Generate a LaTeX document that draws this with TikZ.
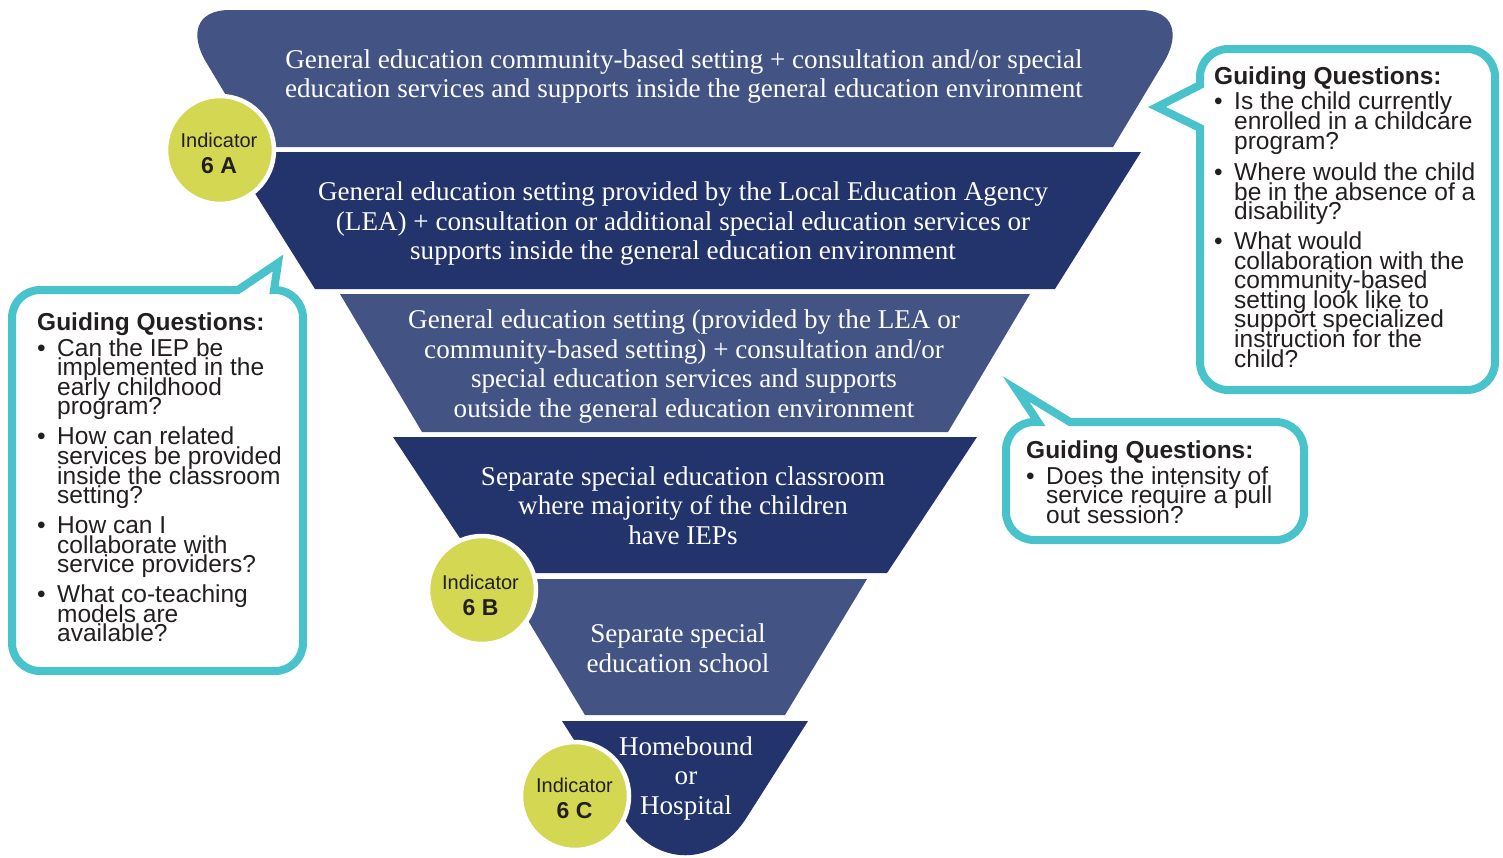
\documentclass[tikz,border=0pt]{standalone}
\usepackage{fontspec}
\setmainfont{Liberation Serif}
\newfontfamily\qfont{Liberation Sans}
\definecolor{bandlight}{RGB}{67,83,131}
\definecolor{banddark}{RGB}{35,51,107}
\definecolor{calloutteal}{RGB}{72,195,204}
\definecolor{indyellow}{RGB}{212,215,82}
\definecolor{qtextcol}{RGB}{35,31,32}
\newcommand\qsetup{\qfont\fontsize{24.5}{19.6}\selectfont\lineskiplimit=-100pt\relax\hsize=300pt\parindent=0pt\parskip=0pt}
\newcommand\qtitle[1]{\noindent{\bfseries #1}\par}
\newcommand\qitem[1]{\par\vspace{#1}\hangindent=20pt\hangafter=1\noindent\hbox to 20pt{\textbullet\hfil}}
\begin{document}
\begin{tikzpicture}[x=1pt,y=-1pt,
  bandtext/.style={text=white, align=center, inner sep=0pt, font=\fontsize{27.1}{29.5}\selectfont},
  callout/.style={draw=calloutteal, line width=8pt, fill=white, line join=miter},
  qnode/.style={inner sep=0pt, text=qtextcol},
  indcircle/.style={circle, fill=indyellow, draw=white, line width=4.5pt, minimum size=108pt, inner sep=0pt},
  indtext/.style={align=center, inner sep=0pt, text=qtextcol, font=\qfont\fontsize{20}{26}\selectfont}]
\useasboundingbox (0,0) rectangle (1503,857);

% funnel bands
\fill[bandlight] (257,147) -- (206,62) .. controls (190,35) and (195,10) .. (230,10) -- (1140,10) .. controls (1175,10) and (1180,35) .. (1164,62) -- (1113,147) -- cycle;
\fill[banddark] (229,152) -- (1141,152) -- (1055,289) -- (315,289) -- cycle;
\fill[bandlight] (340,294) -- (1030,294) -- (948,432) -- (422,432) -- cycle;
\fill[banddark] (393,437) -- (977,437) -- (887,573) -- (483,573) -- cycle;
\fill[bandlight] (503,579) -- (867,579) -- (785,715) -- (585,715) -- cycle;
\fill[banddark] (562,721) -- (808,721) -- (747,817) .. controls (715,868) and (656,868) .. (623,817) -- cycle;

\node[bandtext] (b1) at (684,76.3) {General education community-based setting + consultation and/or special\\education services and supports inside the general education environment};
\node[bandtext] (b2) at (683,223.8) {General education setting provided by the Local Education Agency\\(LEA) + consultation or additional special education services or\\supports inside the general education environment};
\node[bandtext] (b3) at (684,366.5) {General education setting (provided by the LEA or\\community-based setting) + consultation and/or\\special education services and supports\\outside the general education environment};
\node[bandtext] (b4) at (683,505.3) {Separate special education classroom\\where majority of the children\\have IEPs};
\node[bandtext] (b5) at (678,648.3) {Separate special\\education school};
\node[bandtext] (b6) at (686,778) {Homebound\\or\\Hospital};

% indicator circles
\node[indcircle] (c6a) at (220,150) {};
\node[indcircle] (c6b) at (482,590) {};
\node[indcircle] (c6c) at (575,796) {};
\node[indtext] (t6a) at (219,153) {Indicator\\\textbf{\fontsize{23}{26}\selectfont 6 A}};
\node[indtext] (t6b) at (480.5,595) {Indicator\\\textbf{\fontsize{23}{26}\selectfont 6 B}};
\node[indtext] (t6c) at (574.5,798.5) {Indicator\\\textbf{\fontsize{23}{26}\selectfont 6 C}};

% callouts
\draw[callout] (1347,49) [rounded corners=28pt] -- (1200,49) [sharp corners] -- (1200,85) -- (1157,107) -- (1200,128) [rounded corners=28pt] -- (1200,390) -- (1495,390) -- (1495,49) -- cycle;
\draw[callout] (150,290) -- (238,290) -- (278,263) -- (274,290) [rounded corners=28pt] -- (303,290) -- (303,671) -- (12,671) -- (12,290) -- cycle;
\draw[callout] (1150,540) [rounded corners=28pt] -- (1006,540) -- (1006,422) [sharp corners] -- (1038,422) -- (1016,389) -- (1070,422) [rounded corners=28pt] -- (1304,422) -- (1304,540) -- cycle;

\node[qnode, anchor=base west] (rq) at (1214,84) {\vtop{\qsetup
\qtitle{Guiding Questions:}
\qitem{6.2pt}Is the child currently\newline enrolled in a childcare\newline program?
\qitem{12pt}Where would the child\newline be in the absence of a\newline disability?
\qitem{10pt}What would\newline collaboration with the\newline community-based\newline setting look like to\newline support specialized\newline instruction for the\newline child?\par}};

\node[qnode, anchor=base west] (lq) at (37,330) {\vtop{\qsetup
\qtitle{Guiding Questions:}
\qitem{6.4pt}Can the IEP be\newline implemented in the\newline early childhood\newline program?
\qitem{10.4pt}How can related\newline services be provided\newline inside the classroom\newline setting?
\qitem{10.4pt}How can I\newline collaborate with\newline service providers?
\qitem{10pt}What co-teaching\newline models are\newline available?\par}};

\node[qnode, anchor=base west] (mq) at (1026,458) {\vtop{\qsetup
\qtitle{Guiding Questions:}
\qitem{6.4pt}Does the intensity of\newline service require a pull\newline out session?\par}};
\end{tikzpicture}
\end{document}
